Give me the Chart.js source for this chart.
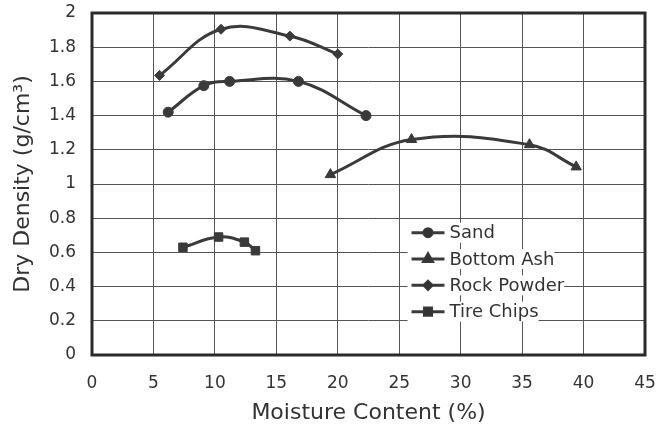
<!DOCTYPE html>
<html>
<head>
<meta charset="utf-8">
<script src="https://cdn.jsdelivr.net/npm/chart.js@4.4.0/dist/chart.umd.min.js"></script>
<style>
  html, body { margin: 0; background: #fff; }
  #wrap { width: 658px; height: 429px; }
</style>
</head>
<body>
<div id="wrap"><canvas id="Chart"></canvas></div>
<script>
// values
const sandX = [6.2, 9.1, 11.2, 16.8, 22.3];
const sandY = [1.42, 1.575, 1.6, 1.6, 1.4];
const ashX = [19.4, 26.0, 35.6, 39.4];
const ashY = [1.055, 1.26, 1.23, 1.1];
const rockX = [5.5, 10.5, 16.1, 20.0];
const rockY = [1.635, 1.905, 1.865, 1.76];
const tireX = [7.4, 10.3, 12.4, 13.3];
const tireY = [0.63, 0.69, 0.66, 0.61];

const seriesNames = ["Sand", "Bottom Ash", "Rock Powder", "Tire Chips"];
const pointStyles = ["circle", "triangle", "rectRot", "rect"];
const pointSizes = [5, 6, 5, 6];

const ink = "#3a3a3a";
const fontName = "'DejaVu Sans', sans-serif";

const toPoints = (xs, ys) => xs.map((x, i) => ({ x: x, y: ys[i] }));
const allData = [toPoints(sandX, sandY), toPoints(ashX, ashY), toPoints(rockX, rockY), toPoints(tireX, tireY)];

const datasets = allData.map((d, i) => {
  return {
    label: seriesNames[i],
    data: d,
    borderColor: ink,
    backgroundColor: ink,
    borderWidth: 3,
    tension: 0.4,
    pointStyle: pointStyles[i],
    pointRadius: pointSizes[i],
    pointBorderWidth: 1,
  };
});

// thick frame round the plot
const frame = {
  id: "frame",
  beforeDatasetsDraw(chart) {
    const a = chart.chartArea;
    const ctx = chart.ctx;
    ctx.save();
    ctx.strokeStyle = "#2a2a2a";
    ctx.lineWidth = 3;
    ctx.strokeRect(a.left, a.top, a.right - a.left, a.bottom - a.top);
    ctx.restore();
  },
};

// legend sits inside the plot, lower right
const innerLegend = {
  id: "innerLegend",
  afterDatasetsDraw(chart) {
    const ctx = chart.ctx;
    const xs = chart.scales.x;
    const ys = chart.scales.y;
    const x0 = xs.getPixelForValue(26.0);
    const y0 = ys.getPixelForValue(0.715);
    const rowH = 26.3;
    ctx.save();
    ctx.font = "18px " + fontName;
    ctx.textBaseline = "middle";
    seriesNames.forEach((name, i) => {
      const y = y0 + i * rowH;
      const w = ctx.measureText(name).width;
      ctx.fillStyle = "#fff";
      ctx.fillRect(x0 - 4, y - 10, 42 + w, 20);
      ctx.strokeStyle = ink;
      ctx.lineWidth = 3;
      ctx.beginPath();
      ctx.moveTo(x0, y);
      ctx.lineTo(x0 + 33, y);
      ctx.stroke();
      Chart.helpers.drawPoint(ctx, {
        pointStyle: pointStyles[i],
        radius: pointSizes[i] - 1,
        rotation: 0,
        borderWidth: 1,
      }, x0 + 16.5, y);
      ctx.fillStyle = "#333";
      ctx.fill();
      ctx.fillText(name, x0 + 38, y + 1);
    });
    ctx.restore();
  },
};

const ctx = document.getElementById("Chart").getContext("2d");
new Chart(ctx, {
  type: "line",
  data: { datasets: datasets },
  plugins: [frame, innerLegend],
  options: {
    responsive: true,
    maintainAspectRatio: false,
    animation: false,
    layout: { padding: { top: 13, right: 13, left: 0, bottom: 0 } },
    plugins: {
      legend: { display: false },
      tooltip: { enabled: false },
    },
    scales: {
      x: {
        type: "linear",
        min: 0,
        max: 45,
        ticks: { stepSize: 5, padding: 18, color: "#333", font: { family: fontName, size: 17 } },
        grid: { color: "#555", lineWidth: 1, drawTicks: false },
        border: { display: false },
        title: {
          display: true,
          text: "Moisture Content (%)",
          color: "#333",
          font: { family: fontName, size: 22 },
          padding: { top: 0, bottom: 3 },
        },
        afterFit: (scale) => {
          scale.height = 74;
          scale.paddingLeft = 0;
          scale.paddingRight = 0;
        },
      },
      y: {
        min: 0,
        max: 2,
        ticks: {
          stepSize: 0.2,
          padding: 16,
          color: "#333",
          font: { family: fontName, size: 17 },
          callback: (v) => String(+v.toFixed(1)),
        },
        grid: { color: "#555", lineWidth: 1, drawTicks: false },
        border: { display: false },
        title: {
          display: true,
          text: "Dry Density (g/cm³)",
          color: "#333",
          font: { family: fontName, size: 22 },
          padding: { top: 10, bottom: 0 },
        },
        afterFit: (scale) => {
          scale.width = 92;
          scale.paddingTop = 0;
          scale.paddingBottom = 0;
        },
      },
    },
  },
});
</script>
</body>
</html>
